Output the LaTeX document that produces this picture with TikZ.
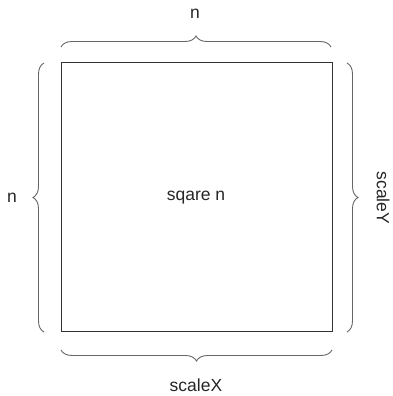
\documentclass[tikz,border=0pt]{standalone}
\usepackage{fontspec}
\setmainfont{Liberation Sans}
\usetikzlibrary{decorations.pathreplacing}
\begin{document}
\begin{tikzpicture}[x=1pt,y=1pt,
  lbl/.style={font=\fontsize{17.5}{21}\selectfont, text=black!85, inner sep=0pt},
  brc/.style={draw=black!60, line width=0.9pt, decorate, decoration={brace, amplitude=11pt}},
  sq/.style={draw=black!80, line width=1pt}]
\useasboundingbox (0,0) rectangle (392,396);
\node[sq, minimum width=271pt, minimum height=269pt, inner sep=0pt, anchor=south west] (sqr) at (61,64) {};
\node[lbl] (mid) at (196,198) {sqare n};
% brace end points
\coordinate (tl) at (61,349);
\coordinate (tr) at (331,349);
\coordinate (bl) at (61,46);
\coordinate (br) at (332,46);
\coordinate (lb) at (44,64);
\coordinate (lt) at (44,333);
\coordinate (rt) at (347,333);
\coordinate (rb) at (347,64);
\draw[brc] (tl) -- (tr);
\draw[brc] (br) -- (bl);
\draw[brc] (lb) -- (lt);
\draw[brc] (rt) -- (rb);
\node[lbl] (ntop) at (195,382) {n};
\node[lbl] (nleft) at (12,198) {n};
\node[lbl] (sx) at (196,11) {scaleX};
\node[lbl, rotate=-90] (sy) at (383,198) {scaleY};
\end{tikzpicture}
\end{document}
